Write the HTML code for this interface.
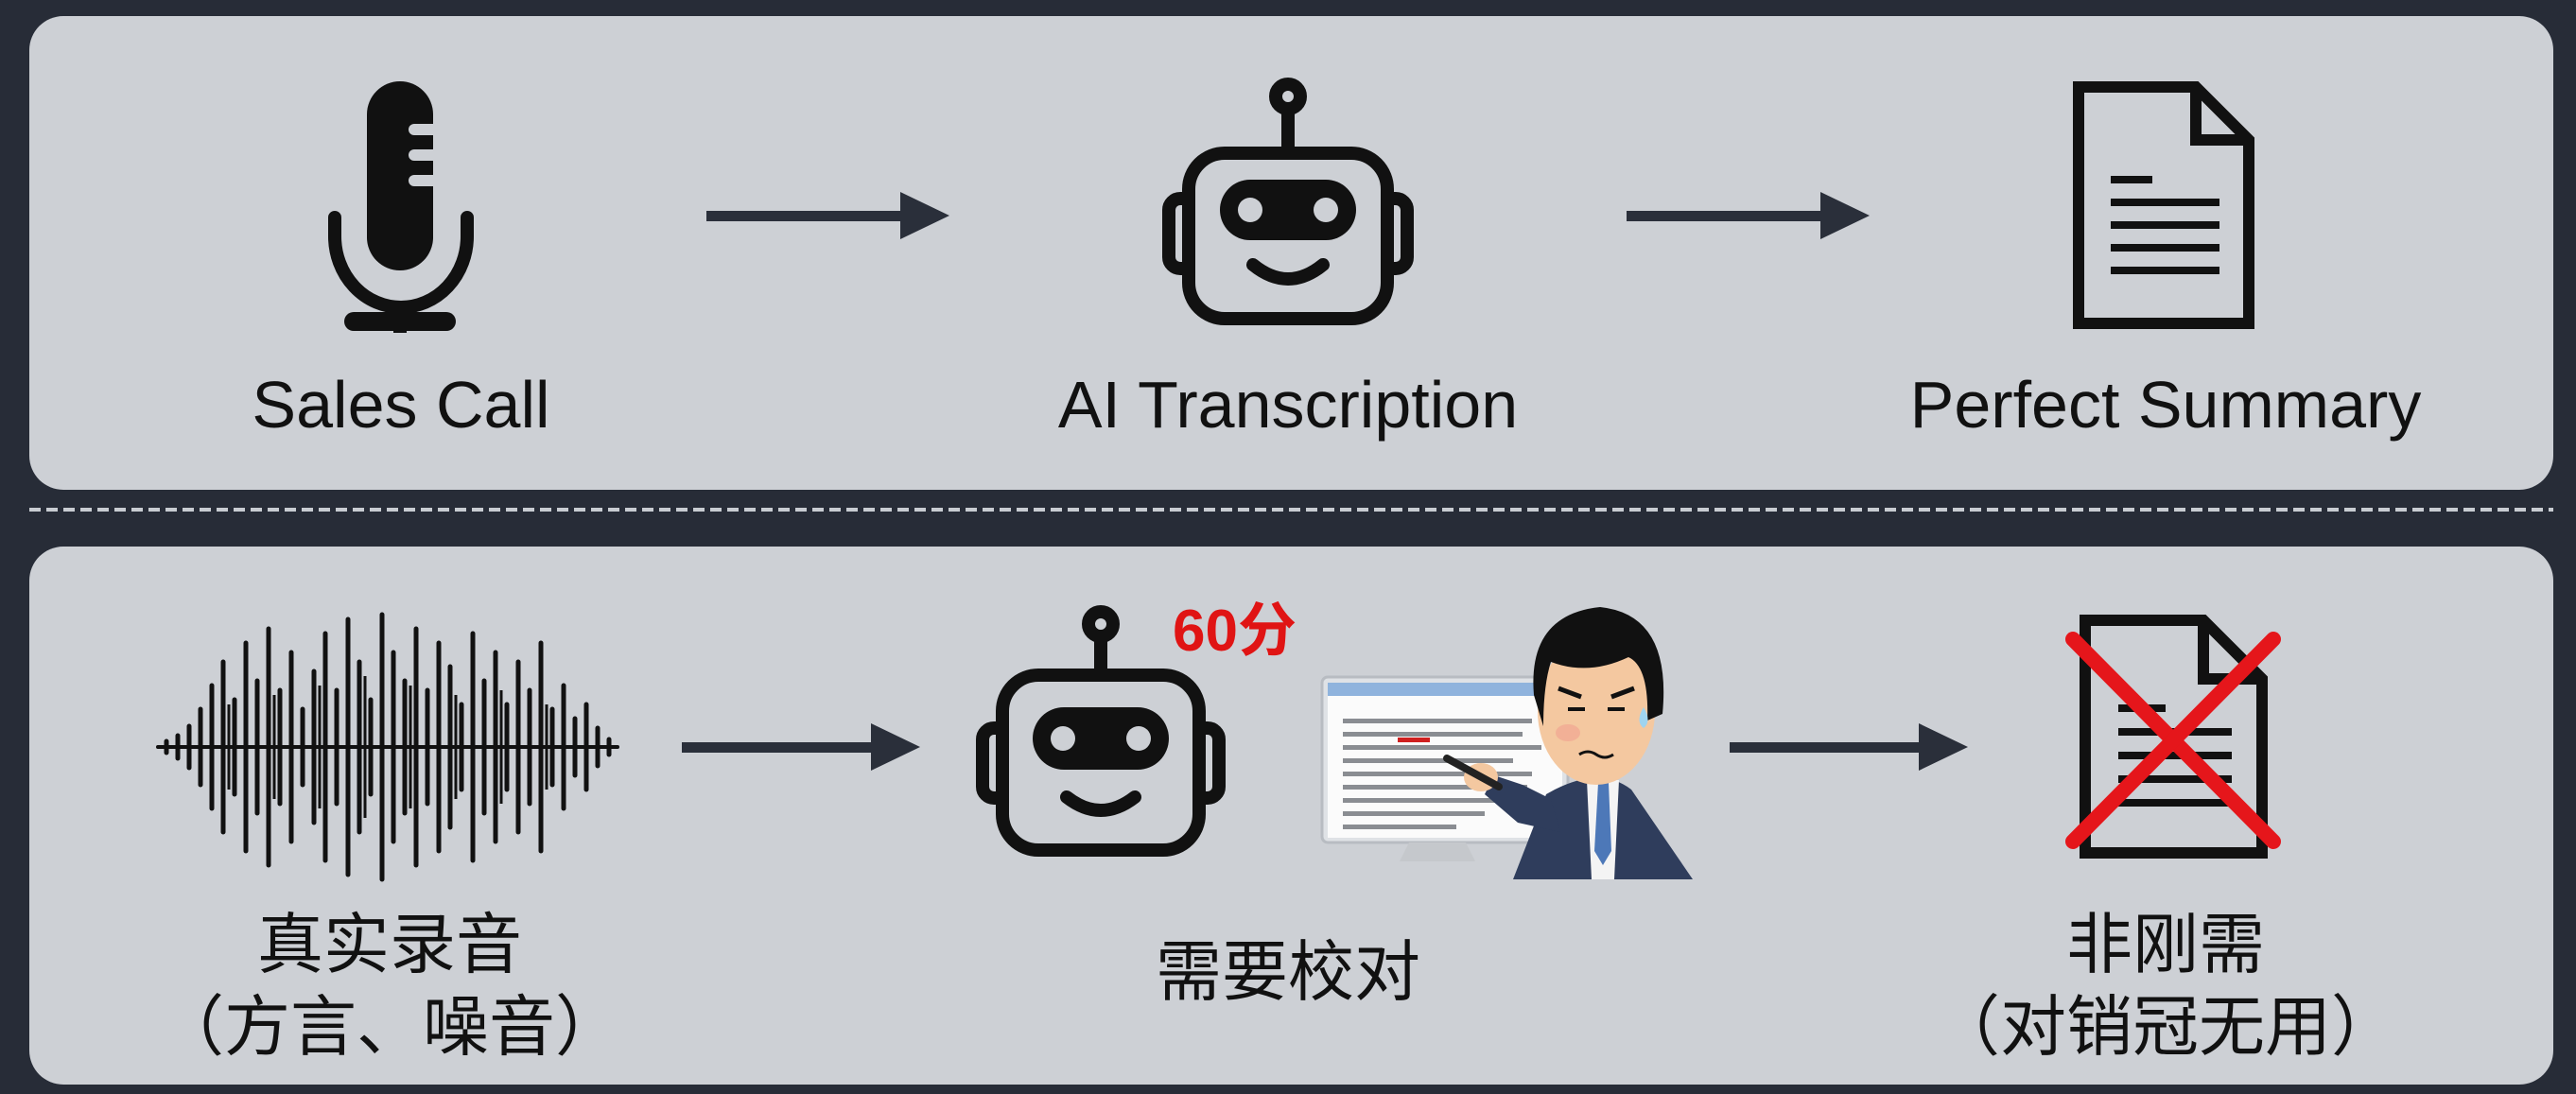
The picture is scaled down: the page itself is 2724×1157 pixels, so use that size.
<!DOCTYPE html>
<html><head><meta charset="utf-8"><style>
html,body{margin:0;padding:0;background:#272c37;}
svg{display:block;}
text{font-family:"Liberation Sans","Noto Sans CJK SC",sans-serif;}
</style></head><body>
<svg width="2724" height="1157" viewBox="0 0 2724 1157" xmlns="http://www.w3.org/2000/svg">
<rect width="2724" height="1157" fill="#272c37"/>
<rect x="31" y="17" width="2669" height="501" rx="36" fill="#cdd0d5"/>
<line x1="31" y1="539" x2="2700" y2="539" stroke="#c8ccd2" stroke-width="4" stroke-dasharray="12,6"/>
<rect x="31" y="578" width="2669" height="569" rx="36" fill="#cdd0d5"/>

<g fill="#111">
<rect x="388" y="86" width="70" height="200" rx="35"/>
<rect x="432" y="131" width="32" height="12" rx="6" fill="#cdd0d5"/>
<rect x="432" y="158" width="32" height="12" rx="6" fill="#cdd0d5"/>
<rect x="432" y="185" width="32" height="12" rx="6" fill="#cdd0d5"/>
<path d="M354 230 V250 A70 75 0 0 0 494 250 V230" fill="none" stroke="#111" stroke-width="14" stroke-linecap="round"/>
<rect x="416" y="322" width="14" height="30"/>
<rect x="364" y="330" width="118" height="20" rx="10"/>
</g>

<g fill="#2a2f3a">
<rect x="747" y="223" width="210" height="11"/><polygon points="952,203 1004,228 952,253"/>
<rect x="1720" y="223" width="210" height="11"/><polygon points="1925,203 1977,228 1925,253"/>
<rect x="721" y="785" width="205" height="11"/><polygon points="921,765 973,790 921,815"/>
<rect x="1829" y="785" width="205" height="11"/><polygon points="2029,765 2081,790 2029,815"/>
</g>

<g fill="none" stroke="#111" stroke-width="14">
<circle cx="1362" cy="102" r="13"/>
<line x1="1362" y1="115" x2="1362" y2="160"/>
<rect x="1257" y="162" width="210" height="175" rx="38"/>
<path d="M1256 210 h-8 a12 12 0 0 0 -12 12 v50 a12 12 0 0 0 12 12 h8"/>
<path d="M1468 210 h8 a12 12 0 0 1 12 12 v50 a12 12 0 0 1 -12 12 h-8"/>
<path d="M1325 280 q37 30 74 0" stroke-linecap="round"/>
</g>
<rect x="1290" y="190" width="144" height="64" rx="32" fill="#111"/>
<circle cx="1322" cy="222" r="13" fill="#cdd0d5"/>
<circle cx="1402" cy="222" r="13" fill="#cdd0d5"/>

<g fill="none" stroke="#111" stroke-width="12">
<path d="M2198 92 H2322 L2378 148 V342 H2198 Z"/>
<path d="M2322 92 V148 H2378"/>
</g>
<g fill="#111">
<rect x="2232" y="186" width="44" height="8"/>
<rect x="2232" y="210" width="115" height="8"/>
<rect x="2232" y="234" width="115" height="8"/>
<rect x="2232" y="258" width="115" height="8"/>
<rect x="2232" y="282" width="115" height="8"/>
</g>

<g font-size="70" fill="#111" text-anchor="middle">
<text x="424" y="452">Sales Call</text>
<text x="1362" y="452">AI Transcription</text>
<text x="2290" y="452">Perfect Summary</text>
</g>

<g stroke="#111" stroke-width="5" stroke-linecap="round">
<line x1="167" y1="790" x2="653" y2="790" stroke-width="4"/>
<line x1="176" y1="784" x2="176" y2="796"/>
<line x1="188" y1="778" x2="188" y2="802"/>
<line x1="200" y1="768" x2="200" y2="812"/>
<line x1="212" y1="750" x2="212" y2="830"/>
<line x1="224" y1="725" x2="224" y2="855"/>
<line x1="236" y1="700" x2="236" y2="880"/>
<line x1="248" y1="740" x2="248" y2="840"/>
<line x1="260" y1="680" x2="260" y2="900"/>
<line x1="272" y1="720" x2="272" y2="860"/>
<line x1="284" y1="665" x2="284" y2="915"/>
<line x1="296" y1="730" x2="296" y2="850"/>
<line x1="308" y1="690" x2="308" y2="890"/>
<line x1="320" y1="750" x2="320" y2="830"/>
<line x1="332" y1="710" x2="332" y2="870"/>
<line x1="344" y1="670" x2="344" y2="910"/>
<line x1="356" y1="730" x2="356" y2="850"/>
<line x1="368" y1="655" x2="368" y2="925"/>
<line x1="380" y1="700" x2="380" y2="880"/>
<line x1="392" y1="740" x2="392" y2="840"/>
<line x1="404" y1="650" x2="404" y2="930"/>
<line x1="416" y1="690" x2="416" y2="890"/>
<line x1="428" y1="720" x2="428" y2="860"/>
<line x1="440" y1="665" x2="440" y2="915"/>
<line x1="452" y1="730" x2="452" y2="850"/>
<line x1="464" y1="680" x2="464" y2="900"/>
<line x1="476" y1="705" x2="476" y2="875"/>
<line x1="488" y1="745" x2="488" y2="835"/>
<line x1="500" y1="670" x2="500" y2="910"/>
<line x1="512" y1="720" x2="512" y2="860"/>
<line x1="524" y1="690" x2="524" y2="890"/>
<line x1="536" y1="745" x2="536" y2="835"/>
<line x1="548" y1="700" x2="548" y2="880"/>
<line x1="560" y1="730" x2="560" y2="850"/>
<line x1="572" y1="680" x2="572" y2="900"/>
<line x1="584" y1="750" x2="584" y2="830"/>
<line x1="596" y1="725" x2="596" y2="855"/>
<line x1="608" y1="760" x2="608" y2="820"/>
<line x1="620" y1="745" x2="620" y2="835"/>
<line x1="632" y1="770" x2="632" y2="810"/>
<line x1="644" y1="782" x2="644" y2="798"/>
</g>
<g stroke="#111" stroke-width="3">
<line x1="242" y1="745" x2="242" y2="835"/>
<line x1="290" y1="735" x2="290" y2="845"/>
<line x1="338" y1="725" x2="338" y2="855"/>
<line x1="386" y1="715" x2="386" y2="865"/>
<line x1="434" y1="725" x2="434" y2="855"/>
<line x1="482" y1="735" x2="482" y2="845"/>
<line x1="530" y1="730" x2="530" y2="850"/>
<line x1="578" y1="745" x2="578" y2="835"/>
</g>

<g fill="none" stroke="#111" stroke-width="14">
<circle cx="1164" cy="660" r="13"/>
<line x1="1164" y1="673" x2="1164" y2="712"/>
<rect x="1060" y="714" width="208" height="185" rx="38"/>
<path d="M1059 770 h-8 a12 12 0 0 0 -12 12 v50 a12 12 0 0 0 12 12 h8"/>
<path d="M1269 770 h8 a12 12 0 0 1 12 12 v50 a12 12 0 0 1 -12 12 h-8"/>
<path d="M1128 843 q36 28 72 0" stroke-linecap="round"/>
</g>
<rect x="1092" y="748" width="144" height="66" rx="33" fill="#111"/>
<circle cx="1124" cy="781" r="13" fill="#cdd0d5"/>
<circle cx="1204" cy="781" r="13" fill="#cdd0d5"/>
<text x="1240" y="688" font-size="62" font-weight="bold" fill="#e01414">60分</text>

<rect x="1398" y="716" width="260" height="175" rx="6" fill="#dfe2e6" stroke="#b8bcc2" stroke-width="3"/>
<rect x="1404" y="722" width="248" height="14" fill="#8fb3dd"/>
<rect x="1404" y="736" width="248" height="150" fill="#fbfbfb"/>
<path d="M1490 891 h60 l10 20 h-80 z" fill="#c5c8cc"/>
<g fill="#8a8d92">
<rect x="1420" y="760" width="200" height="5"/>
<rect x="1420" y="774" width="190" height="5"/>
<rect x="1420" y="788" width="210" height="5"/>
<rect x="1420" y="802" width="180" height="5"/>
<rect x="1420" y="816" width="200" height="5"/>
<rect x="1420" y="830" width="195" height="5"/>
<rect x="1420" y="844" width="170" height="5"/>
<rect x="1420" y="858" width="150" height="5"/>
<rect x="1420" y="872" width="120" height="5"/>
</g>
<rect x="1478" y="780" width="34" height="5" fill="#d02020"/>

<path d="M1600 930 L1635 840 Q1690 808 1725 835 L1790 930 Z" fill="#2f3d5c"/>
<path d="M1678 825 L1712 825 L1707 930 L1683 930 Z" fill="#f4f4f4"/>
<path d="M1690 828 L1701 828 L1704 900 L1695 915 L1686 900 Z" fill="#4d78b8"/>
<path d="M1640 845 L1610 830 L1580 820 L1570 840 L1605 870 L1650 880 Z" fill="#2f3d5c"/>
<ellipse cx="1566" cy="822" rx="18" ry="15" fill="#f4c8a0"/>
<line x1="1530" y1="802" x2="1585" y2="832" stroke="#222" stroke-width="8" stroke-linecap="round"/>
<ellipse cx="1688" cy="752" rx="62" ry="78" fill="#f4c8a0"/>
<path d="M1622 735 Q1615 650 1692 642 Q1768 650 1758 755 L1742 762 Q1744 705 1722 695 Q1680 715 1640 700 Q1632 725 1632 768 Z" fill="#111"/>
<path d="M1648 728 l24 9 M1704 737 l24 -9" stroke="#111" stroke-width="5"/>
<path d="M1658 750 h18 M1700 750 h18" stroke="#111" stroke-width="4"/>
<path d="M1670 798 q9 -6 18 0 q9 6 18 0" stroke="#111" stroke-width="3" fill="none"/>
<ellipse cx="1658" cy="775" rx="13" ry="9" fill="#f0a090" opacity="0.6"/>
<path d="M1738 748 q9 15 0 22 q-9 -7 0 -22z" fill="#9fd4f0"/>

<g fill="none" stroke="#111" stroke-width="12">
<path d="M2205 656 H2330 L2392 718 V902 H2205 Z"/>
<path d="M2330 656 V718 H2392"/>
</g>
<g fill="#111">
<rect x="2240" y="745" width="50" height="8"/>
<rect x="2240" y="770" width="120" height="8"/>
<rect x="2240" y="795" width="120" height="8"/>
<rect x="2240" y="820" width="120" height="8"/>
<rect x="2240" y="845" width="120" height="8"/>
</g>
<g stroke="#e5161b" stroke-width="16" stroke-linecap="round">
<line x1="2192" y1="676" x2="2404" y2="890"/>
<line x1="2404" y1="676" x2="2192" y2="890"/>
</g>

<g font-size="70" fill="#111" text-anchor="middle">
<text x="412" y="1023">真实录音</text>
<text x="412" y="1110">（方言、噪音）</text>
<text x="1362" y="1052">需要校对</text>
<text x="2290" y="1023">非刚需</text>
<text x="2290" y="1110">（对销冠无用）</text>
</g>
</svg>
</body></html>
